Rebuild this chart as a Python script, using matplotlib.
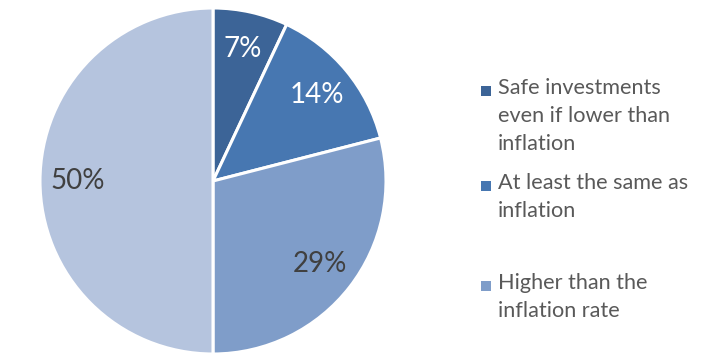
import matplotlib
matplotlib.use("Agg")
import matplotlib.pyplot as plt
from matplotlib.patches import Rectangle

# ---- data ----
shares = [7, 14, 29, 50]
labels = ["Safe investments\neven if lower than\ninflation",
          "At least the same as\ninflation",
          "Higher than the\ninflation rate",
          ""]
colors = ["#3c6497", "#4777b1", "#7f9dc9", "#b5c4de"]
pct_colors = ["white", "white", "#404040", "#404040"]

FONT = ["Lato", "DejaVu Sans"]

fig = plt.figure(figsize=(7.18, 3.54), dpi=100)
fig.patch.set_facecolor("white")
ax = fig.add_axes([40 / 718, 0 / 354, 346 / 718, 346 / 354])
ax.set_xlim(-1, 1); ax.set_ylim(-1, 1)
ax.set_aspect("equal")
ax.axis("off")

wedges, texts, autotexts = ax.pie(
    shares, colors=colors, startangle=90, counterclock=False, radius=1,
    autopct="%d%%", pctdistance=0.78,
    wedgeprops=dict(edgecolor="white", linewidth=2.2),
    textprops=dict(fontsize=20, family=FONT))
ax.set_xlim(-1, 1); ax.set_ylim(-1, 1)
for t, c in zip(autotexts, pct_colors):
    t.set_color(c)

# ---- legend (manual, irregular spacing like the original) ----
W, H = 718, 354
entry_y = [91, 186, 286]   # first-line centre, px from top
for i, y in enumerate(entry_y):
    fig.patches.append(Rectangle(((481) / W, 1 - (y + 5) / H), 10 / W, 10 / H,
                                 transform=fig.transFigure, fc=colors[i], ec="none"))
    fig.text(498 / W, 1 - (y - 13) / H, labels[i], ha="left", va="top",
             color="#595959", fontsize=15.6, family=FONT, linespacing=1.5)

fig.savefig("out.png", dpi=100, facecolor="white")
